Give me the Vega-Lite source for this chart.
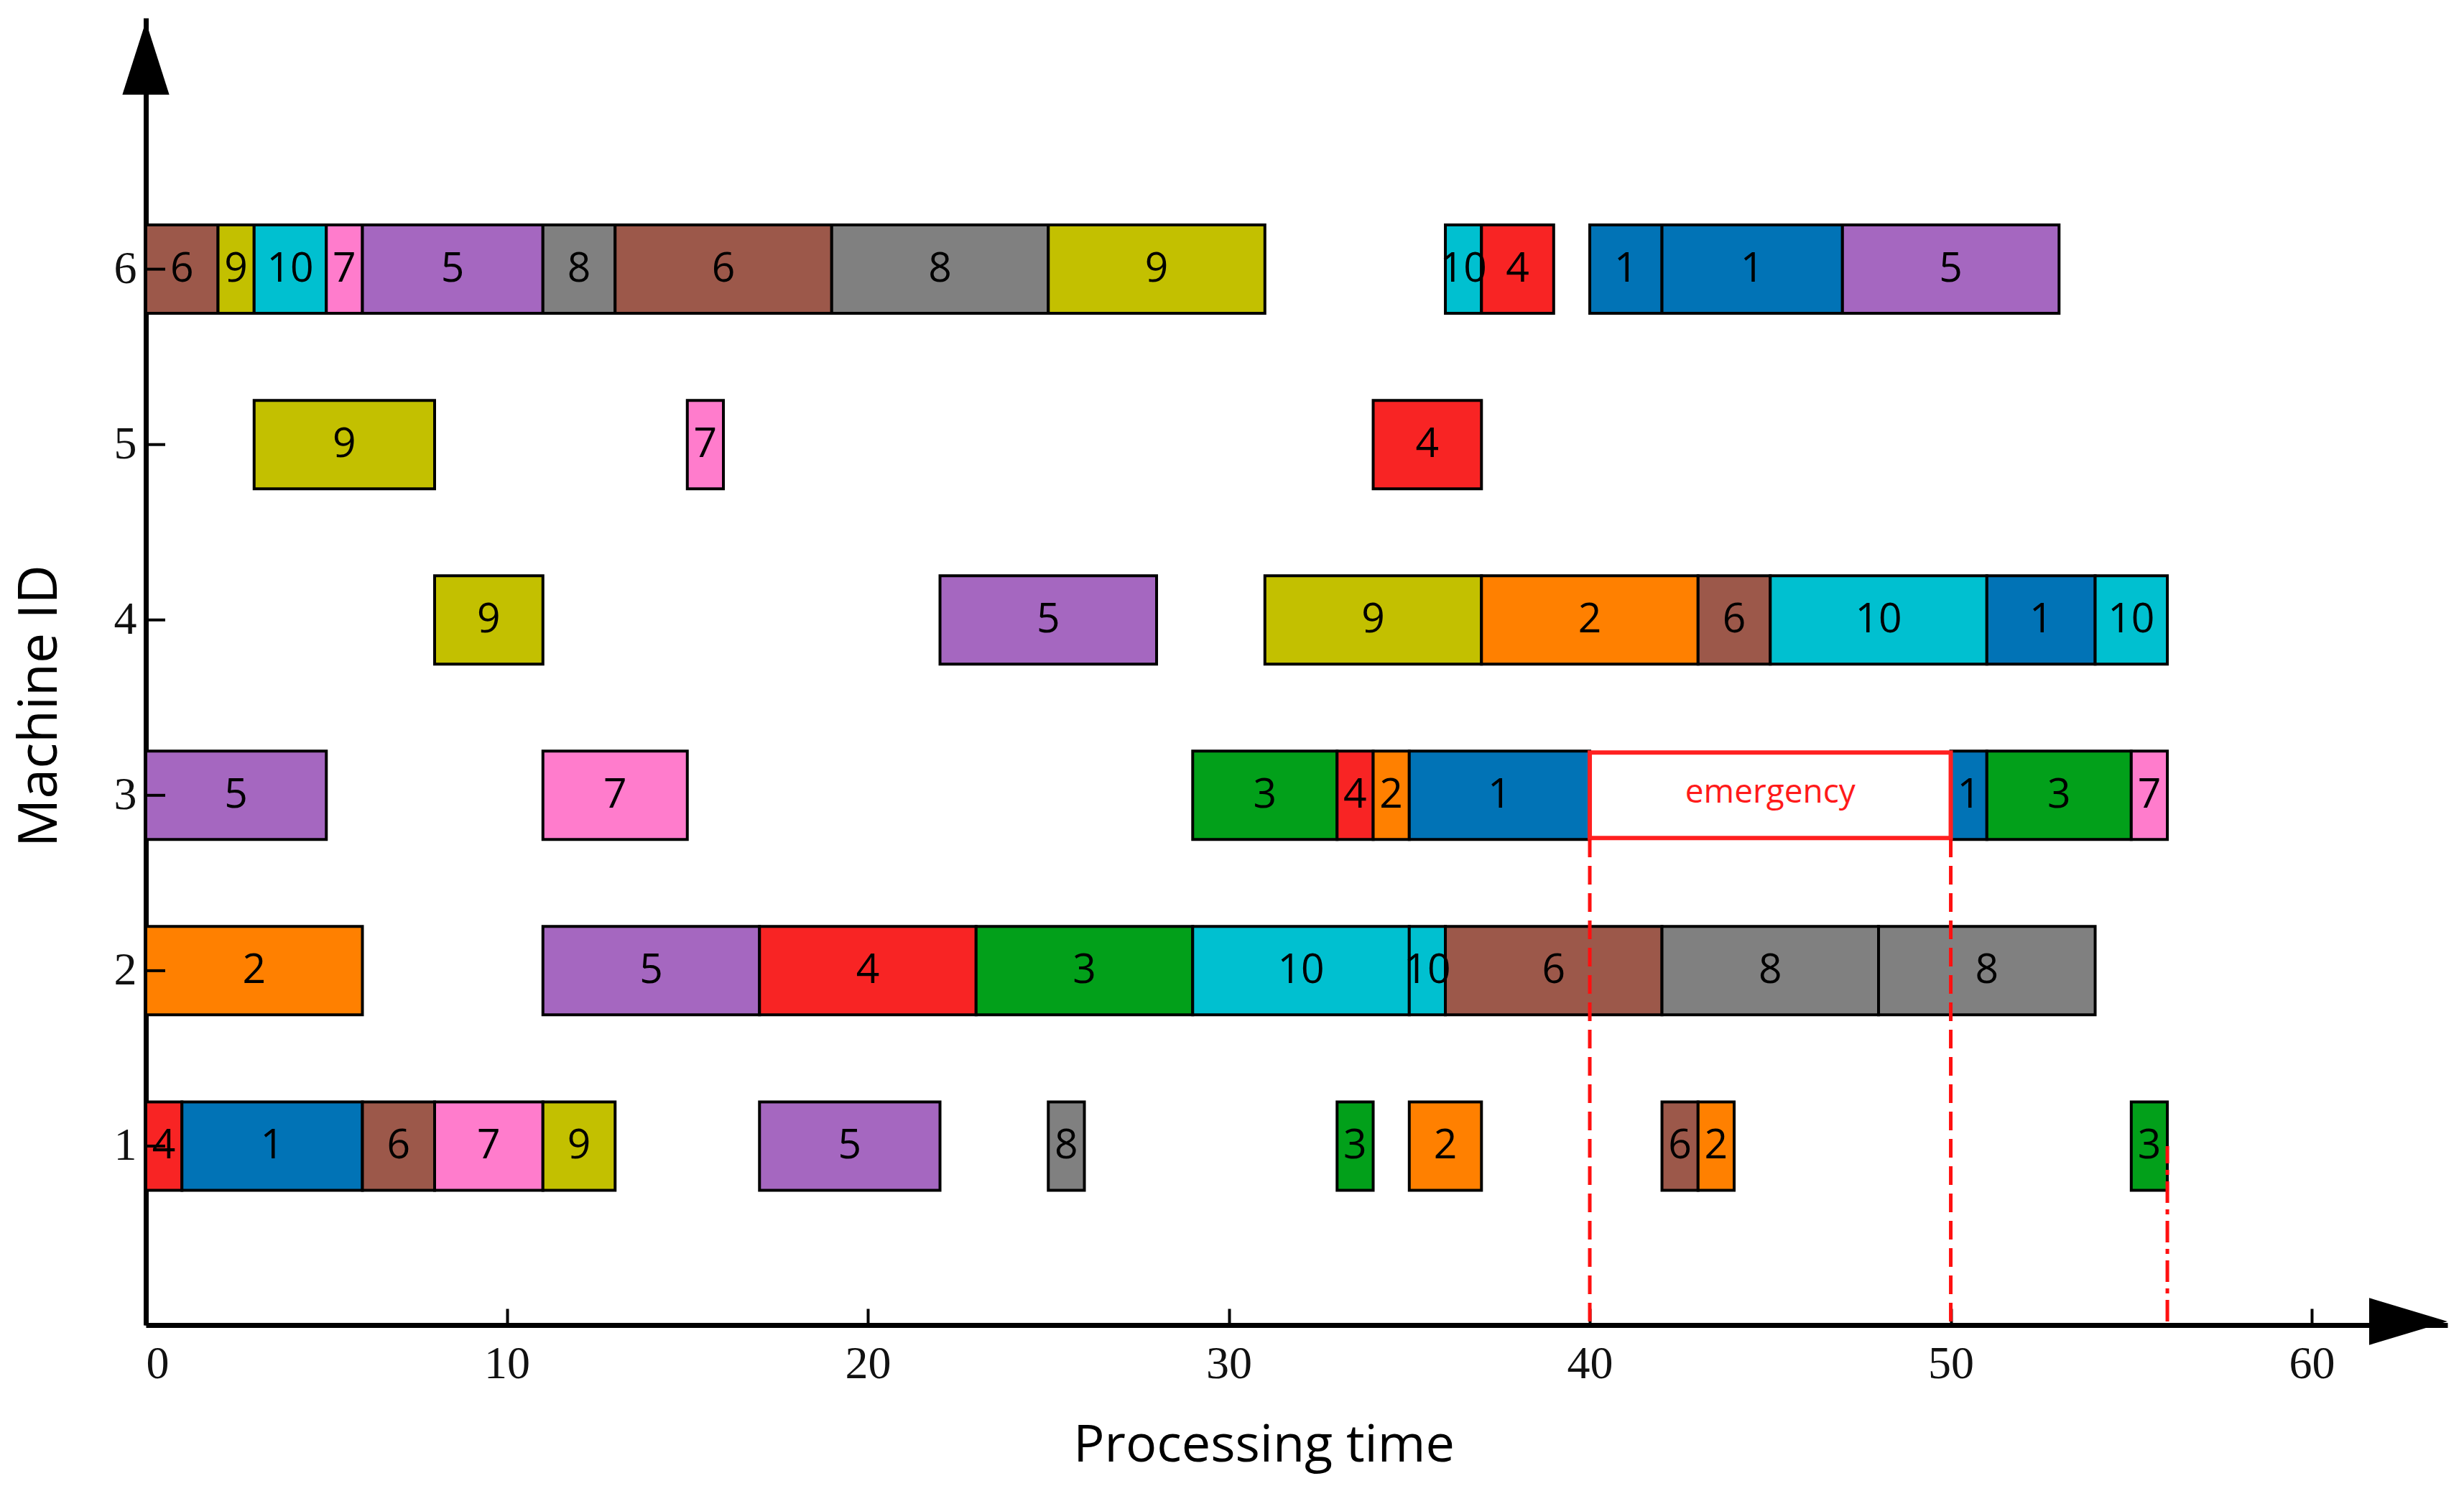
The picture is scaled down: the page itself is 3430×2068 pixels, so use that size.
{
  "$schema": "https://vega.github.io/schema/vega-lite/v6.json",
  "width": 3204,
  "height": 1819,
  "autosize": {"type": "none"},
  "padding": {"left": 203, "top": 25, "right": 23, "bottom": 224},
  "background": "white",
  "config": {
    "view": {"stroke": null},
    "axis": {
      "grid": false,
      "domainColor": "black",
      "domainWidth": 7,
      "tickColor": "black",
      "tickWidth": 4,
      "labelFont": "Liberation Serif",
      "labelFontSize": 64,
      "labelColor": "#111",
      "titleFont": "Open Sans",
      "titleFontWeight": "normal",
      "titleColor": "black",
      "zindex": 1
    }
  },
  "datasets": {
    "tasks": [
      {"machine": 6, "job": 6, "start": 0, "end": 2},
      {"machine": 6, "job": 9, "start": 2, "end": 3},
      {"machine": 6, "job": 10, "start": 3, "end": 5},
      {"machine": 6, "job": 7, "start": 5, "end": 6},
      {"machine": 6, "job": 5, "start": 6, "end": 11},
      {"machine": 6, "job": 8, "start": 11, "end": 13},
      {"machine": 6, "job": 6, "start": 13, "end": 19},
      {"machine": 6, "job": 8, "start": 19, "end": 25},
      {"machine": 6, "job": 9, "start": 25, "end": 31},
      {"machine": 6, "job": 10, "start": 36, "end": 37},
      {"machine": 6, "job": 4, "start": 37, "end": 39},
      {"machine": 6, "job": 1, "start": 40, "end": 42},
      {"machine": 6, "job": 1, "start": 42, "end": 47},
      {"machine": 6, "job": 5, "start": 47, "end": 53},
      {"machine": 5, "job": 9, "start": 3, "end": 8},
      {"machine": 5, "job": 7, "start": 15, "end": 16},
      {"machine": 5, "job": 4, "start": 34, "end": 37},
      {"machine": 4, "job": 9, "start": 8, "end": 11},
      {"machine": 4, "job": 5, "start": 22, "end": 28},
      {"machine": 4, "job": 9, "start": 31, "end": 37},
      {"machine": 4, "job": 2, "start": 37, "end": 43},
      {"machine": 4, "job": 6, "start": 43, "end": 45},
      {"machine": 4, "job": 10, "start": 45, "end": 51},
      {"machine": 4, "job": 1, "start": 51, "end": 54},
      {"machine": 4, "job": 10, "start": 54, "end": 56},
      {"machine": 3, "job": 5, "start": 0, "end": 5},
      {"machine": 3, "job": 7, "start": 11, "end": 15},
      {"machine": 3, "job": 3, "start": 29, "end": 33},
      {"machine": 3, "job": 4, "start": 33, "end": 34},
      {"machine": 3, "job": 2, "start": 34, "end": 35},
      {"machine": 3, "job": 1, "start": 35, "end": 40},
      {"machine": 3, "job": 1, "start": 50, "end": 51},
      {"machine": 3, "job": 3, "start": 51, "end": 55},
      {"machine": 3, "job": 7, "start": 55, "end": 56},
      {"machine": 2, "job": 2, "start": 0, "end": 6},
      {"machine": 2, "job": 5, "start": 11, "end": 17},
      {"machine": 2, "job": 4, "start": 17, "end": 23},
      {"machine": 2, "job": 3, "start": 23, "end": 29},
      {"machine": 2, "job": 10, "start": 29, "end": 35},
      {"machine": 2, "job": 10, "start": 35, "end": 36},
      {"machine": 2, "job": 6, "start": 36, "end": 42},
      {"machine": 2, "job": 8, "start": 42, "end": 48},
      {"machine": 2, "job": 8, "start": 48, "end": 54},
      {"machine": 1, "job": 4, "start": 0, "end": 1},
      {"machine": 1, "job": 1, "start": 1, "end": 6},
      {"machine": 1, "job": 6, "start": 6, "end": 8},
      {"machine": 1, "job": 7, "start": 8, "end": 11},
      {"machine": 1, "job": 9, "start": 11, "end": 13},
      {"machine": 1, "job": 5, "start": 17, "end": 22},
      {"machine": 1, "job": 8, "start": 25, "end": 26},
      {"machine": 1, "job": 3, "start": 33, "end": 34},
      {"machine": 1, "job": 2, "start": 35, "end": 37},
      {"machine": 1, "job": 6, "start": 42, "end": 43},
      {"machine": 1, "job": 2, "start": 43, "end": 44},
      {"machine": 1, "job": 3, "start": 55, "end": 56}
    ],
    "emergency": [
      {"machine": 3, "start": 40, "end": 50, "mid": 45, "label": "emergency"}
    ],
    "dashed": [
      {"t": 40, "from": 0, "to": 2.75},
      {"t": 50, "from": 0, "to": 2.75}
    ],
    "dashdot": [
      {"t": 56, "from": 0, "to": 1}
    ],
    "yticks": [
      {"t": 0, "machine": 1},
      {"t": 0, "machine": 2},
      {"t": 0, "machine": 3},
      {"t": 0, "machine": 4},
      {"t": 0, "machine": 5},
      {"t": 0, "machine": 6}
    ],
    "xarrow": [{"t": 62.675, "m": 0}],
    "yarrow": [{"t": 0, "m": 7.204}]
  },
  "layer": [
    {
      "data": {"name": "tasks"},
      "mark": {"type": "bar", "orient": "horizontal", "size": 123, "stroke": "black", "strokeWidth": 4, "opacity": 1},
      "encoding": {
        "x": {
          "field": "start", "type": "quantitative",
          "scale": {"domain": [0, 63.76], "nice": false, "zero": false},
          "axis": {
            "values": [0, 10, 20, 30, 40, 50, 60],
            "format": "d",
            "tickSize": -23,
            "labelPadding": 45,
            "title": "Processing time",
            "titleFontSize": 72,
            "titleX": 1556,
            "titleY": 189,
            "titleBaseline": "alphabetic",
            "titleAlign": "center",
            "titleAnchor": null
          }
        },
        "x2": {"field": "end"},
        "y": {
          "field": "machine", "type": "quantitative",
          "scale": {"domain": [0, 7.412], "nice": false, "zero": false},
          "axis": {
            "values": [1, 2, 3, 4, 5, 6],
            "format": "d",
            "ticks": false,
            "labelPadding": 13,
            "labelBaseline": "middle",
            "title": "Machine ID",
            "titleFontSize": 75,
            "titleAngle": 270,
            "titleX": -148,
            "titleY": 957,
            "titleBaseline": "middle",
            "titleAlign": "center",
            "titleAnchor": null
          }
        },
        "color": {
          "field": "job", "type": "nominal", "legend": null,
          "scale": {
            "domain": [1, 2, 3, 4, 5, 6, 7, 8, 9, 10],
            "range": ["#0173b6", "#ff8000", "#02a01a", "#f82424", "#a567c0", "#9c584a", "#ff7ccc", "#808080", "#c3c000", "#00c0d0"]
          }
        }
      }
    },
    {
      "data": {"name": "tasks"},
      "transform": [
        {"fold": ["start", "end"], "as": ["edge", "pos"]},
        {"aggregate": [{"op": "mean", "field": "pos", "as": "mid"}], "groupby": ["machine", "job", "start"]}
      ],
      "mark": {"type": "text", "font": "Liberation Sans Narrow, Open Sans, sans-serif", "fontSize": 57, "color": "black", "align": "center", "baseline": "middle"},
      "encoding": {
        "x": {"field": "mid", "type": "quantitative"},
        "y": {"field": "machine", "type": "quantitative"},
        "text": {"field": "job", "type": "nominal"}
      }
    },
    {
      "data": {"name": "yticks"},
      "mark": {"type": "point", "filled": false, "stroke": "black", "strokeWidth": 4, "opacity": 1, "size": 2916, "shape": "M 0 0 L 1 0"},
      "encoding": {
        "x": {"field": "t", "type": "quantitative"},
        "y": {"field": "machine", "type": "quantitative"}
      }
    },
    {
      "data": {"name": "emergency"},
      "mark": {"type": "bar", "orient": "horizontal", "size": 119, "fill": "white", "stroke": "#ff2020", "strokeWidth": 6, "opacity": 1},
      "encoding": {
        "x": {"field": "start", "type": "quantitative"},
        "x2": {"field": "end"},
        "y": {"field": "machine", "type": "quantitative"}
      }
    },
    {
      "data": {"name": "emergency"},
      "mark": {"type": "text", "font": "Open Sans", "fontSize": 46, "color": "#ff1a1a", "align": "center", "baseline": "middle", "dy": -4},
      "encoding": {
        "x": {"field": "mid", "type": "quantitative"},
        "y": {"field": "machine", "type": "quantitative"},
        "text": {"field": "label"}
      }
    },
    {
      "data": {"name": "dashed"},
      "mark": {"type": "rule", "color": "#ff1010", "strokeWidth": 5, "strokeDash": [26, 12]},
      "encoding": {
        "x": {"field": "t", "type": "quantitative"},
        "y": {"field": "from", "type": "quantitative"},
        "y2": {"field": "to"}
      }
    },
    {
      "data": {"name": "dashdot"},
      "mark": {"type": "rule", "color": "#ff1010", "strokeWidth": 5, "strokeDash": [30, 9, 7, 9]},
      "encoding": {
        "x": {"field": "t", "type": "quantitative"},
        "y": {"field": "from", "type": "quantitative"},
        "y2": {"field": "to"}
      }
    },
    {
      "data": {"name": "xarrow"},
      "mark": {"type": "point", "filled": true, "color": "black", "opacity": 1, "size": 11881, "shape": "M -1 -0.6 L 1 0 L -1 0.6 Z"},
      "encoding": {
        "x": {"field": "t", "type": "quantitative"},
        "y": {"field": "m", "type": "quantitative"}
      }
    },
    {
      "data": {"name": "yarrow"},
      "mark": {"type": "point", "filled": true, "color": "black", "opacity": 1, "size": 10404, "shape": "M -0.64 1 L 0 -1 L 0.64 1 Z"},
      "encoding": {
        "x": {"field": "t", "type": "quantitative"},
        "y": {"field": "m", "type": "quantitative"}
      }
    }
  ]
}
